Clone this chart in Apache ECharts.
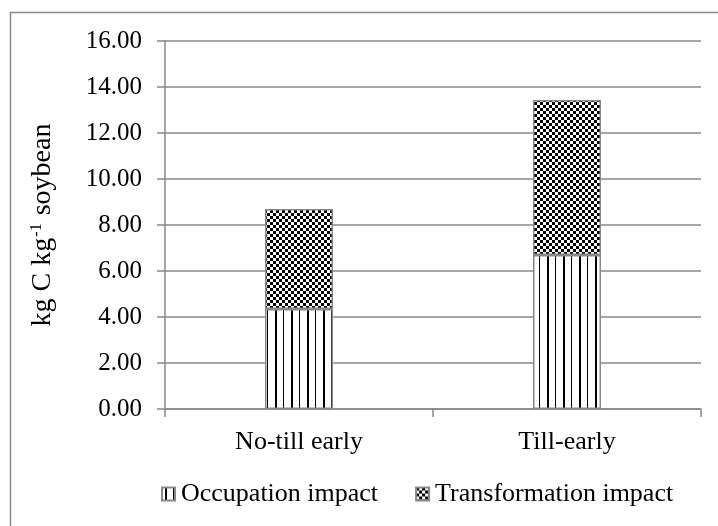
<!DOCTYPE html>
<html><head><meta charset="utf-8">
<script src="https://cdn.jsdelivr.net/npm/echarts@6/dist/echarts.min.js"></script>
<style>html,body{margin:0;padding:0;background:#fff}#c{width:718px;height:526px}</style>
</head><body><div id="c"></div>
<script>
const categories = ['No-till early', 'Till-early'];
const occupation = [4.35, 6.70];
const transformation = [4.35, 6.73];
const yTicks = [0, 2, 4, 6, 8, 10, 12, 14, 16];

function stripes() {
  const c = document.createElement('canvas'); c.width = 16; c.height = 4;
  const g = c.getContext('2d');
  g.fillStyle = '#fff'; g.fillRect(0, 0, 16, 4);
  g.fillStyle = '#000'; g.fillRect(3, 0, 2, 4); g.fillRect(11, 0, 1, 4);
  return c;
}
function checker() {
  const c = document.createElement('canvas'); c.width = 6; c.height = 6;
  const g = c.getContext('2d');
  g.fillStyle = '#fff'; g.fillRect(0, 0, 6, 6);
  g.fillStyle = '#000'; g.fillRect(0, 0, 3, 3); g.fillRect(3, 3, 3, 3);
  return c;
}
const font = '"Liberation Serif", "Times New Roman", serif';
const gray = '#888888';
const chart = echarts.init(document.getElementById('c'));
chart.setOption({
  animation: false,
  backgroundColor: '#fff',
  textStyle: { fontFamily: font, color: '#000' },
  graphic: [{ type: 'rect', shape: { x: 10.5, y: 12.5, width: 800, height: 600 },
    style: { fill: 'none', stroke: gray, lineWidth: 1.5 }, silent: true }],
  grid: { left: 165, right: 17, top: 41, bottom: 117 },
  legend: {
    left: 156, top: 476, itemWidth: 13, itemHeight: 13, itemGap: 37,
    icon: 'rect',
    textStyle: { fontFamily: font, fontSize: 26, color: '#000', padding: [0, 0, 0, 1] },
    data: ['Occupation impact', 'Transformation impact']
  },
  xAxis: {
    type: 'category', data: categories,
    axisLine: { lineStyle: { color: gray, width: 1.5 } },
    axisTick: { show: true, length: 8, lineStyle: { color: gray, width: 1.5 } },
    axisLabel: { fontFamily: font, fontSize: 26, color: '#000', margin: 20 }
  },
  yAxis: {
    type: 'value', min: yTicks[0], max: yTicks[yTicks.length - 1], interval: 2,
    name: '{a|kg C kg}{s|-1}{a| soybean}', nameLocation: 'middle', nameGap: 108, nameRotate: 90,
    nameTextStyle: {
      rich: {
        a: { fontFamily: font, fontSize: 28, color: '#000' },
        s: { fontFamily: font, fontSize: 16, color: '#000', verticalAlign: 'top', padding: [0, 1, 10, 1] }
      }
    },
    axisLine: { show: true, lineStyle: { color: gray, width: 1.5 } },
    axisTick: { show: true, length: 8, lineStyle: { color: gray, width: 1.5 } },
    splitLine: { lineStyle: { color: gray, width: 1.5 } },
    axisLabel: { fontFamily: font, fontSize: 25, color: '#000', margin: 23,
      formatter: v => v.toFixed(2) }
  },
  series: [
    { name: 'Occupation impact', type: 'bar', stack: 's', data: occupation, barWidth: 68,
      itemStyle: { color: { image: stripes(), repeat: 'repeat' }, borderColor: gray, borderWidth: 1.5 } },
    { name: 'Transformation impact', type: 'bar', stack: 's', data: transformation, barWidth: 68,
      itemStyle: { color: { image: checker(), repeat: 'repeat' }, borderColor: gray, borderWidth: 1.5 } }
  ]
});
</script></body></html>
